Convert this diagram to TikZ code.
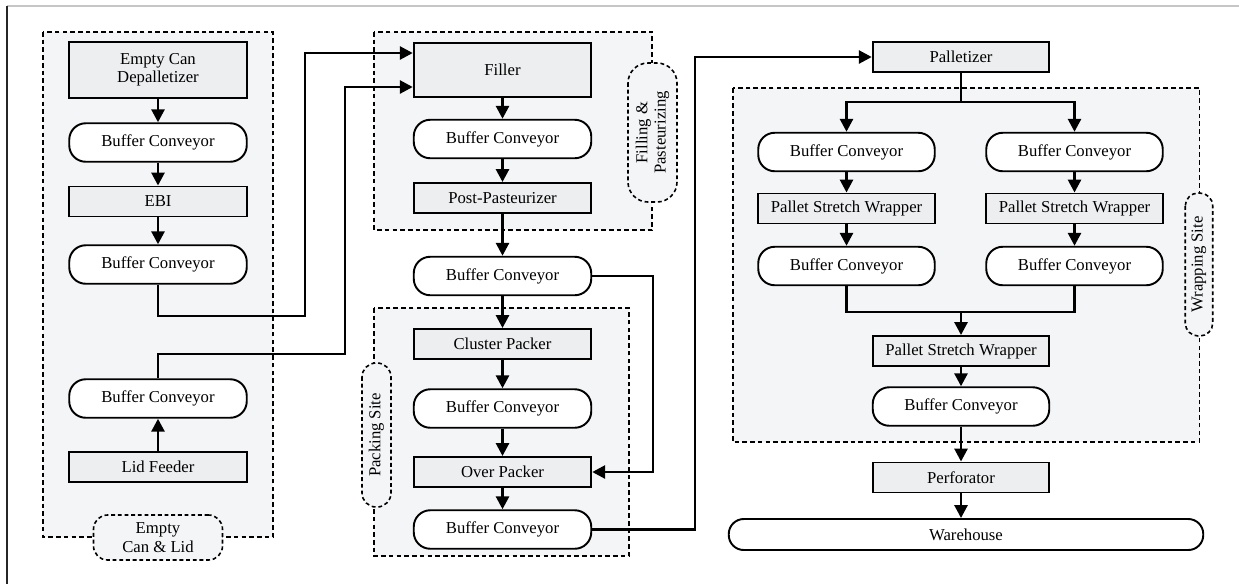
\documentclass[tikz,border=0pt]{standalone}
\usepackage{fontspec}
\setmainfont{Liberation Serif}
\usetikzlibrary{arrows.meta}
\definecolor{sitefill}{RGB}{244,245,247}
\definecolor{boxfill}{RGB}{237,238,240}

\begin{document}
\begin{tikzpicture}[
    % Styles
    machine/.style={
      rectangle,
      draw=black,
      fill=boxfill,
      minimum width=3.55cm,
      minimum height=0.6cm,
      align=center,
      inner sep=2pt,
      line width=1.1pt,
      font=\fontsize{9.5}{10.5}\selectfont,
    },
    conveyor/.style={
      machine,
      fill=white,
      rounded corners=0.33cm,
      minimum height=0.77cm,
    },
    site/.style={draw=black, fill=sitefill, line width=0.9pt, dash pattern=on 2.6pt off 1.8pt},
    tag/.style={
      rectangle,
      draw=black,
      fill=sitefill,
      rounded corners=0.28cm,
      align=center,
      inner sep=1pt,
      line width=0.9pt,
      dash pattern=on 2.2pt off 1.6pt,
      font=\fontsize{9.5}{10.5}\selectfont,
    },
    flow/.style={line width=1.6pt, -{Triangle[length=2.6mm,width=2.6mm]}},
    link/.style={line width=1.6pt},
  ]
  \pgfdeclarelayer{background}
  \pgfsetlayers{background,main}
  \useasboundingbox (0,0) rectangle (24.78,-11.68);
  \draw[gray!45, line width=0.6pt] (0.14,-0.12) -- (24.78,-0.12);
  \draw[black!85, line width=0.6pt] (0.14,-0.12) -- (0.14,-11.68);

  % Empty can & lid
  \node[machine, minimum height=1.12cm] (dep) at (3.16,-1.40) {Empty Can\\Depalletizer};
  \node[conveyor] (bc1) at (3.16,-2.85) {Buffer Conveyor};
  \node[machine] (ebi) at (3.16,-4.03) {EBI};
  \node[conveyor] (bc2) at (3.16,-5.29) {Buffer Conveyor};
  \node[conveyor] (bc3) at (3.16,-7.97) {Buffer Conveyor};
  \node[machine] (lid) at (3.16,-9.34) {Lid Feeder};

  % Filling & packing
  \node[machine, minimum height=1.08cm] (fil) at (10.05,-1.40) {Filler};
  \node[conveyor] (bc4) at (10.05,-2.78) {Buffer Conveyor};
  \node[machine] (pst) at (10.05,-3.96) {Post-Pasteurizer};
  \node[conveyor] (bc5) at (10.05,-5.52) {Buffer Conveyor};
  \node[machine] (clp) at (10.05,-6.88) {Cluster Packer};
  \node[conveyor] (bc6) at (10.05,-8.17) {Buffer Conveyor};
  \node[machine] (ovp) at (10.05,-9.44) {Over Packer};
  \node[conveyor] (bc7) at (10.05,-10.59) {Buffer Conveyor};

  % Wrapping
  \node[machine, minimum width=3.53cm] (pal) at (19.22,-1.14) {Palletizer};
  \node[conveyor, minimum width=3.53cm] (bcl1) at (16.93,-3.04) {Buffer Conveyor};
  \node[conveyor, minimum width=3.53cm] (bcr1) at (21.49,-3.04) {Buffer Conveyor};
  \node[machine, minimum width=3.53cm] (psl) at (16.93,-4.17) {Pallet Stretch Wrapper};
  \node[machine, minimum width=3.53cm] (psr) at (21.49,-4.17) {Pallet Stretch Wrapper};
  \node[conveyor, minimum width=3.53cm] (bcl2) at (16.93,-5.32) {Buffer Conveyor};
  \node[conveyor, minimum width=3.53cm] (bcr2) at (21.49,-5.32) {Buffer Conveyor};
  \node[machine, minimum width=3.53cm] (psc) at (19.22,-7.02) {Pallet Stretch Wrapper};
  \node[conveyor, minimum width=3.53cm] (bcc) at (19.22,-8.13) {Buffer Conveyor};
  \node[machine, minimum width=3.53cm] (prf) at (19.22,-9.55) {Perforator};
  \node[conveyor, minimum width=9.49cm, minimum height=0.62cm, rounded corners=0.3cm] (war) at (19.32,-10.69) {Warehouse};
  \coordinate (split) at (19.22,-2.04);
  \coordinate (merge) at (19.22,-6.24);

  \draw[flow] (dep) -- (bc1);
  \draw[flow] (bc1) -- (ebi);
  \draw[flow] (ebi) -- (bc2);
  \draw[flow] (lid) -- (bc3);
  \draw[flow] (bc2.south) |- (6.10,-6.32) |- ([yshift=0.34cm]fil.west);
  \draw[flow] (bc3.north) |- (6.90,-7.08) |- ([yshift=-0.34cm]fil.west);
  \draw[flow] (fil) -- (bc4);
  \draw[flow] (bc4) -- (pst);
  \draw[flow] (pst) -- (bc5);
  \draw[flow] (bc5) -- (clp);
  \draw[flow] (clp) -- (bc6);
  \draw[flow] (bc6) -- (ovp);
  \draw[flow] (ovp) -- (bc7);
  \draw[flow] (bc5.east) -- (13.06,-5.52) |- (ovp.east);
  \draw[flow] (bc7.east) -- (13.90,-10.59) |- (pal.west);
  \draw[link] (pal.south) -- (split);
  \draw[flow] (split) -| (bcl1.north);
  \draw[flow] (split) -| (bcr1.north);
  \draw[flow] (bcl1) -- (psl);
  \draw[flow] (bcr1) -- (psr);
  \draw[flow] (psl) -- (bcl2);
  \draw[flow] (psr) -- (bcr2);
  \draw[link] (bcl2.south) |- (merge) -| (bcr2.south);
  \draw[flow] (merge) -- (psc);
  \draw[flow] (psc) -- (bcc);
  \draw[flow] (bcc) -- (prf);
  \draw[flow] (prf.south) -- (prf.south |- war.north);

  \begin{pgfonlayer}{background}
    \draw[site] (0.86,-0.64) rectangle (5.46,-10.74);
    \draw[site] (7.48,-0.64) rectangle (13.04,-4.60);
    \draw[site] (7.48,-6.16) rectangle (12.58,-11.12);
    \draw[site] (14.66,-1.76) rectangle (23.99,-8.84);
  \end{pgfonlayer}
  \node[tag, minimum width=2.58cm, minimum height=0.9cm] (tcan) at (3.16,-10.75) {Empty\\Can \& Lid};
  \node[tag, rotate=90, minimum width=2.78cm, minimum height=0.98cm, rounded corners=0.4cm] (tfil) at (13.05,-2.65) {Filling \&\\Pasteurizing};
  \node[tag, rotate=90, minimum width=2.88cm, minimum height=0.58cm] (tpck) at (7.53,-8.70) {Packing Site};
  \node[tag, rotate=90, minimum width=2.86cm, minimum height=0.55cm, rounded corners=0.26cm] (twrp) at (23.98,-5.29) {Wrapping Site};
\end{tikzpicture}
\end{document}
